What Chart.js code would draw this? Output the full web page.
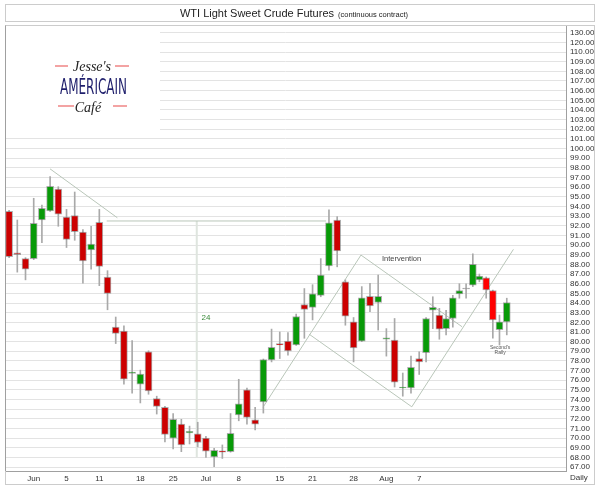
<!DOCTYPE html>
<html lang="en">
<head>
    <meta charset="UTF-8">
    <title>WTI Light Sweet Crude Futures</title>
    <script src="https://cdn.jsdelivr.net/npm/chart.js"></script>
    <style>
        body { margin: 0; background: #fff; }
    </style>
</head>
<body>
    <canvas id="myChart" width="600" height="489"></canvas>
    <script>
// candle slots (trading day positions)
const slots = [0, 1, 2, 3, 4, 5, 6, 7, 8, 9, 10, 11, 12, 13, 14, 15, 16, 17, 18, 19,
    20, 21, 22, 23, 24, 25, 26, 27, 28, 29, 30, 31, 32, 33, 34, 35, 36, 37, 38, 39,
    40, 41, 42, 43, 44, 45, 46, 47, 48, 49, 50,
    50.84, 51.66, 52.46, 53.28, 54.10, 54.90, 55.72, 56.54, 57.34, 58.17, 58.98, 59.79, 60.68]

const opens = [93.5, 89.2, 88.6, 88.6, 92.6, 93.55, 95.8, 92.9, 93.05, 91.35,
    89.5, 92.35, 86.7, 81.5, 81.1, 76.7, 75.6, 78.95, 74.1, 73.2,
    70.0, 71.45, 70.55, 70.45, 70.0, 68.05, 68.7, 68.6, 72.4, 75.0,
    71.9, 73.75, 78.1, 79.8, 80.05, 79.65, 83.85, 83.55, 84.8, 87.85,
    92.6, 86.2, 82.05, 80.05, 84.7, 84.05, 80.25, 80.15, 75.2, 75.2,
    78.25, 78.85, 83.25, 82.75, 81.35, 82.4, 84.95, 85.45, 85.85, 86.4,
    86.6, 85.3, 81.25, 82.05]
const highs = [93.6, 92.6, 88.7, 94.85, 94.15, 97.1, 96.05, 93.7, 95.5, 91.6,
    91.95, 93.7, 87.35, 82.55, 81.65, 80.1, 77.05, 79.05, 74.35, 73.3,
    72.55, 71.95, 71.25, 71.65, 70.2, 68.95, 69.3, 72.55, 76.1, 75.2,
    73.2, 78.2, 81.3, 81.0, 80.95, 82.85, 85.5, 85.9, 88.6, 93.65,
    92.95, 86.4, 82.5, 85.7, 86.05, 86.9, 81.35, 82.4, 76.75, 78.5,
    78.95, 82.5, 84.65, 83.45, 83.25, 84.8, 86.0, 86.0, 89.1, 87.0,
    86.7, 85.35, 82.75, 84.5]
const lows = [88.7, 87.2, 86.4, 88.5, 90.25, 93.5, 91.95, 89.75, 90.5, 86.05,
    87.5, 85.8, 83.3, 79.8, 75.6, 74.65, 73.65, 74.55, 72.5, 69.6,
    68.9, 68.6, 69.4, 69.1, 68.0, 67.05, 67.9, 68.55, 71.8, 71.45,
    70.85, 72.6, 77.9, 78.25, 78.6, 79.6, 80.35, 82.25, 84.65, 87.4,
    87.75, 81.7, 77.9, 80.0, 83.1, 81.2, 78.5, 75.3, 74.35, 74.65,
    76.6, 77.9, 81.35, 80.25, 80.7, 81.5, 84.5, 84.5, 85.7, 86.2,
    84.5, 80.35, 79.65, 80.7]
const closes = [88.8, 89.0, 87.5, 92.25, 93.8, 96.1, 93.2, 90.6, 91.4, 88.35,
    90.1, 87.8, 85.0, 80.85, 76.1, 76.85, 76.65, 74.9, 73.3, 70.4,
    71.95, 69.3, 70.7, 69.55, 68.65, 68.75, 68.55, 70.5, 73.55, 72.15,
    71.45, 78.15, 79.4, 79.65, 79.05, 82.6, 83.35, 84.95, 86.9, 92.3,
    89.4, 82.65, 79.35, 84.55, 83.7, 84.7, 80.4, 75.8, 75.3, 77.35,
    77.9, 82.4, 83.55, 81.3, 82.4, 84.55, 85.3, 85.45, 88.0, 86.8,
    85.35, 82.25, 82.05, 84.05]

// x axis date labels and the slots they sit on
const xLabels = ['Jun', '5', '11', '18', '25', 'Jul', '8', '15', '21', '28', 'Aug', '7']
const xLabelSlots = [3, 7, 11, 16, 20, 24, 28, 33, 37, 42, 46, 50]

// y axis labels, one per price step from 67 upward (as printed on the chart)
const yTickLabels = ['67.00', '68.00', '69.00', '70.00', '71.00', '72.00', '73.00', '74.00',
    '75.00', '76.00', '77.00', '78.00', '79.00', '80.00', '81.00', '82.00', '83.00', '84.00',
    '85.00', '86.00', '87.00', '88.00', '89.00', '90.00', '91.00', '92.00', '93.00', '94.00',
    '95.00', '96.00', '97.00', '98.00', '99.00', '100.00', '101.00', '102.00', '103.00',
    '104.00', '105.00', '106.00', '107.00', '108.00', '109.00', '110.00', '120.00', '130.00']

// hand drawn trend lines, in [slot, price] pairs
const trendLines = [
    [[4.99, 97.9], [13.2, 92.83]],
    [[11.9, 92.5], [38.65, 92.5]],
    [[22.88, 92.5], [22.88, 68.0]],
    [[30.96, 73.2], [42.9, 88.97]],
    [[42.9, 88.97], [55.23, 81.54]],
    [[36.57, 80.78], [49.1, 73.25]],
    [[49.1, 73.25], [61.49, 89.56]]
]

// notes on the chart: [text, slot, price]
const notes = [
    ['24', 24.0, 82.5],
    ['Intervention', 47.85, 88.55],
    ["Second's", 59.87, 79.36],
    ['Rally', 59.87, 78.85]
]

const highlighted = [60, 61]   // the two bright red days
const FONT = 'Arial, "Liberation Sans", sans-serif'

function candleColor(i) {
    if (closes[i] > opens[i]) return '#089a08'
    if (closes[i] < opens[i]) return highlighted.includes(i) ? '#ff0000' : '#cc0000'
    return '#9a9a9a'
}

const lineSets = trendLines.map((seg, k) => ({
    type: 'line',
    label: 'trend' + k,
    data: seg.map(p => ({ x: p[0], y: p[1] })),
    borderColor: k == 2 ? '#dfe5df' : '#b9c6b9',
    borderWidth: k == 2 ? 2 : 1,
    pointRadius: 0,
    fill: false
}))

const decor = {
    id: 'decor',
    beforeDatasetsDraw(chart) {
        const ctx = chart.ctx
        ctx.save()
        // logo box covers the grid
        ctx.fillStyle = '#fff'
        ctx.fillRect(6, 26, 154, 109)

        ctx.strokeStyle = '#f3a3a3'
        ctx.lineWidth = 2
        ctx.beginPath()
        ctx.moveTo(55, 66); ctx.lineTo(68, 66)
        ctx.moveTo(115, 66); ctx.lineTo(129, 66)
        ctx.moveTo(58, 106); ctx.lineTo(74, 106)
        ctx.moveTo(113, 106); ctx.lineTo(127, 106)
        ctx.stroke()

        ctx.textAlign = 'center'
        ctx.textBaseline = 'middle'
        ctx.fillStyle = '#222'
        ctx.font = 'italic 14px "Liberation Serif", "DejaVu Serif", serif'
        ctx.fillText("Jesse's", 92, 67)
        ctx.fillText('Café', 88, 108)

        ctx.fillStyle = '#1f1f6c'
        ctx.font = '22px "Liberation Sans Narrow", "DejaVu Sans Condensed", sans-serif'
        ctx.fillText('AMÉRICAIN', 93.5, 88, 67)
        ctx.restore()
    },
    afterDatasetsDraw(chart) {
        const ctx = chart.ctx
        const x = chart.scales.x, y = chart.scales.y
        ctx.save()
        ctx.textAlign = 'center'
        ctx.textBaseline = 'middle'
        notes.forEach(n => {
            if (n[0] == '24') { ctx.fillStyle = '#3a8a3a'; ctx.font = '8px ' + FONT }
            else if (n[0] == 'Intervention') { ctx.fillStyle = '#444'; ctx.font = '7.5px ' + FONT }
            else { ctx.fillStyle = '#555'; ctx.font = '5px ' + FONT }
            ctx.fillText(n[0], x.getPixelForValue(n[1]), y.getPixelForValue(n[2]))
        })
        ctx.restore()
    },
    afterDraw(chart) {
        const ctx = chart.ctx
        ctx.save()
        // title box
        ctx.strokeStyle = '#cccccc'
        ctx.lineWidth = 1
        ctx.strokeRect(5.5, 4.5, 589, 17)
        // outer frame of the plot
        ctx.strokeRect(5.5, 25.5, 589, 459)
        // left edge of the plot
        ctx.strokeStyle = '#a0a0a0'
        ctx.beginPath()
        ctx.moveTo(5.5, 25.5); ctx.lineTo(5.5, 471)
        ctx.stroke()

        const main = 'WTI Light Sweet Crude Futures'
        const sub = '(continuous contract)'
        ctx.font = '11px ' + FONT
        const w1 = ctx.measureText(main).width
        ctx.font = '7.5px ' + FONT
        const w2 = ctx.measureText(sub).width
        let sx = 294 - (w1 + 4 + w2) / 2
        ctx.fillStyle = '#222'
        ctx.textBaseline = 'alphabetic'
        ctx.textAlign = 'left'
        ctx.font = '11px ' + FONT
        ctx.fillText(main, sx, 17)
        ctx.font = '7.5px ' + FONT
        ctx.fillText(sub, sx + w1 + 4, 16.5)

        ctx.fillStyle = '#333'
        ctx.font = '8px ' + FONT
        ctx.textBaseline = 'middle'
        ctx.fillText('Daily', 570, 478)
        ctx.restore()
    }
}

new Chart(document.getElementById('myChart'), {
    type: 'bar',
    data: {
        datasets: [
            {
                label: 'body',
                data: slots.map((s, i) => ({ x: s, y: [opens[i], closes[i]] })),
                backgroundColor: c => candleColor(c.dataIndex),
                borderColor: 'rgba(110,110,110,0.55)',
                borderWidth: 1,
                borderSkipped: false,
                barThickness: 7,
                minBarLength: 1,
                grouped: false
            },
            {
                label: 'wick',
                data: slots.map((s, i) => ({ x: s, y: [lows[i], highs[i]] })),
                backgroundColor: '#a9a9a9',
                barThickness: 1,
                grouped: false
            },
            ...lineSets
        ]
    },
    options: {
        responsive: false,
        animation: false,
        layout: { padding: { left: 5, top: 25, right: 0, bottom: 0 } },
        plugins: {
            legend: { display: false },
            tooltip: { enabled: false }
        },
        scales: {
            x: {
                type: 'linear',
                min: -0.5,
                max: 67.9,
                offset: false,
                grid: { display: false, drawTicks: false },
                border: { display: true, color: '#a0a0a0' },
                afterBuildTicks: s => { s.ticks = xLabelSlots.map(v => ({ value: v })) },
                afterFit: s => { s.height = 18 },
                ticks: {
                    callback: (v, i) => xLabels[i],
                    autoSkip: false,
                    maxRotation: 0,
                    padding: 3,
                    color: '#333',
                    font: { size: 8, family: FONT }
                }
            },
            y: {
                type: 'linear',
                position: 'right',
                min: 66.6,
                max: 112.8,
                grid: { color: '#e3e3e3', drawTicks: false },
                border: { color: '#a0a0a0' },
                afterBuildTicks: s => { s.ticks = yTickLabels.map((t, i) => ({ value: 67 + i })) },
                afterFit: s => { s.width = 34 },
                ticks: {
                    callback: (v, i) => yTickLabels[i],
                    autoSkip: false,
                    padding: 4,
                    color: '#333',
                    font: { size: 8, family: FONT }
                }
            }
        }
    },
    plugins: [decor]
})
    </script>
</body>
</html>
